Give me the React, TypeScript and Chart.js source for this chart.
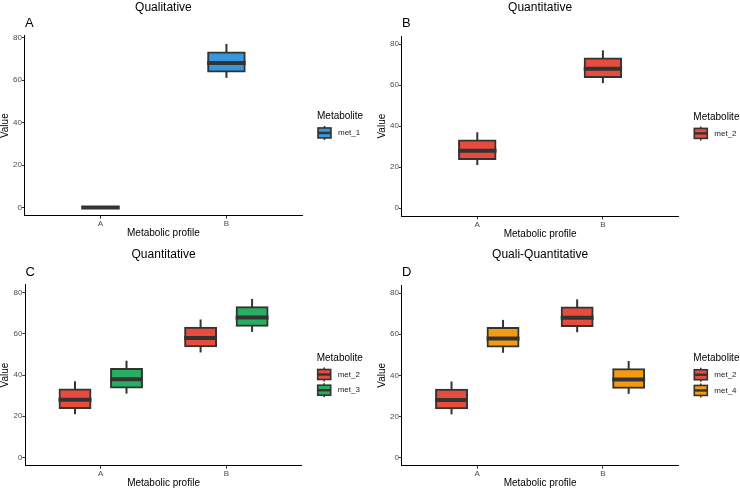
import React, { useEffect, useRef } from "react";
import { Chart, registerables } from "chart.js";

Chart.register(...registerables);

// ---------- data ----------
const CATEGORIES = ["A", "B"];
const Y_TICKS = [0, 20, 40, 60, 80];

// five-number summaries per category: [min, q1, median, q3, max]
const A_MET_1 = [
  [0, 0, 0, 0, 0],
  [61, 64, 68, 73, 77],
];
const B_MET_2 = [
  [21, 24, 28, 33, 37],
  [61, 64, 68, 73, 77],
];
const C_MET_2 = [
  [21, 24, 28, 33, 37],
  [51, 54, 58, 63, 67],
];
const C_MET_3 = [
  [31, 34, 38, 43, 47],
  [61, 64, 68, 73, 77],
];
const D_MET_2 = [
  [21, 24, 28, 33, 37],
  [61, 64, 68, 73, 77],
];
const D_MET_4 = [
  [51, 54, 58, 63, 67],
  [31, 34, 38, 43, 47],
];

const FONT = "'Liberation Sans', Arial, Helvetica, sans-serif";
const OUTLINE = "#333333";
const COLORS: Record<string, string> = {
  met_1: "#3498DB",
  met_2: "#E74C3C",
  met_3: "#27AE60",
  met_4: "#F39C12",
};

type Series = { name: string; stats: number[][] };
type Panel = {
  title: string;
  tag: string;
  yMin: number;
  yMax: number;
  series: Series[];
  box: { left: number; top: number; width: number; height: number };
  pad: { left: number; right: number; top: number; bottom: number };
  titleGap: number;
  tagGap: number;
};

const PANELS: Panel[] = [
  {
    title: "Qualitative",
    tag: "A",
    yMin: -3.85,
    yMax: 80.85,
    series: [{ name: "met_1", stats: A_MET_1 }],
    box: { left: 0, top: 0, width: 370, height: 245 },
    pad: { left: 0, right: 68, top: 2, bottom: 6.3 },
    titleGap: 3,
    tagGap: 5.7,
  },
  {
    title: "Quantitative",
    tag: "B",
    yMin: -4,
    yMax: 84,
    series: [{ name: "met_2", stats: B_MET_2 }],
    box: { left: 370, top: 0, width: 370, height: 245 },
    pad: { left: 7, right: 61.7, top: 2, bottom: 5.7 },
    titleGap: 3,
    tagGap: 6,
  },
  {
    title: "Quantitative",
    tag: "C",
    yMin: -4,
    yMax: 84,
    series: [
      { name: "met_2", stats: C_MET_2 },
      { name: "met_3", stats: C_MET_3 },
    ],
    box: { left: 0, top: 245, width: 370, height: 246 },
    pad: { left: 0.5, right: 68.3, top: 3.5, bottom: 2.3 },
    titleGap: 5,
    tagGap: 6,
  },
  {
    title: "Quali-Quantitative",
    tag: "D",
    yMin: -4,
    yMax: 84,
    series: [
      { name: "met_2", stats: D_MET_2 },
      { name: "met_4", stats: D_MET_4 },
    ],
    box: { left: 370, top: 245, width: 370, height: 246 },
    pad: { left: 7, right: 61.7, top: 3.5, bottom: 2.3 },
    titleGap: 5,
    tagGap: 6.5,
  },
];

// whiskers (under boxes) and medians (over boxes), positioned from the bar elements + y scale
const boxPlotPlugin = {
  id: "boxPlotParts",
  beforeDatasetsDraw(chart: any) {
    const ctx = chart.ctx;
    const y = chart.scales.y;
    chart.data.datasets.forEach((ds: any, d: number) => {
      const meta = chart.getDatasetMeta(d);
      meta.data.forEach((el: any, i: number) => {
        const s = ds.boxStats[i];
        if (s[4] === s[0]) return;
        ctx.save();
        ctx.strokeStyle = OUTLINE;
        ctx.lineWidth = 2;
        ctx.beginPath();
        ctx.moveTo(el.x, y.getPixelForValue(s[0]));
        ctx.lineTo(el.x, y.getPixelForValue(s[4]));
        ctx.stroke();
        ctx.restore();
      });
    });
  },
  afterDatasetsDraw(chart: any) {
    const ctx = chart.ctx;
    const y = chart.scales.y;
    chart.data.datasets.forEach((ds: any, d: number) => {
      const meta = chart.getDatasetMeta(d);
      meta.data.forEach((el: any, i: number) => {
        const s = ds.boxStats[i];
        const py = y.getPixelForValue(s[2]);
        ctx.save();
        ctx.strokeStyle = OUTLINE;
        ctx.lineWidth = 4;
        ctx.beginPath();
        ctx.moveTo(el.x - el.width / 2 - 1, py);
        ctx.lineTo(el.x + el.width / 2 + 1, py);
        ctx.stroke();
        ctx.restore();
      });
    });
  },
  afterDraw(chart: any) {
    const ctx = chart.ctx;
    const area = chart.chartArea;
    const ds = chart.data.datasets;
    const n = ds.length;
    const x0 = area.right + 15;
    const cy = (area.top + area.bottom) / 2;
    const span = 16.5 + (n - 1) * 15.7;
    const titleY = cy - 1 - span / 2;
    ctx.save();
    ctx.fillStyle = "#000";
    ctx.font = `10px ${FONT}`;
    ctx.textBaseline = "middle";
    ctx.textAlign = "left";
    ctx.fillText("Metabolite", x0, titleY);
    ds.forEach((d: any, i: number) => {
      const ky = titleY + 16.5 + i * 15.7;
      const kx = x0 + 1;
      const kw = 13;
      const kh = 10;
      // whisker stubs
      ctx.strokeStyle = OUTLINE;
      ctx.lineWidth = 1.5;
      ctx.beginPath();
      ctx.moveTo(kx + kw / 2, ky - kh / 2 - 2);
      ctx.lineTo(kx + kw / 2, ky + kh / 2 + 2);
      ctx.stroke();
      // box
      ctx.fillStyle = d.backgroundColor;
      ctx.fillRect(kx, ky - kh / 2, kw, kh);
      ctx.lineWidth = 1.6;
      ctx.strokeRect(kx, ky - kh / 2, kw, kh);
      // median
      ctx.lineWidth = 2.4;
      ctx.beginPath();
      ctx.moveTo(kx, ky);
      ctx.lineTo(kx + kw, ky);
      ctx.stroke();
      // label
      ctx.fillStyle = "#1a1a1a";
      ctx.font = `8px ${FONT}`;
      ctx.fillText(d.label, x0 + 21, ky);
    });
    ctx.restore();
  },
};

function PanelChart({ panel }: { panel: Panel }) {
  const ref = useRef<HTMLCanvasElement | null>(null);
  useEffect(() => {
    if (!ref.current) return;
    const grouped = panel.series.length > 1;
    const catPct = 0.82;
    const barPct = grouped ? 0.6 : 0.29 / 0.82;
    const datasets = panel.series.map((s) => ({
      label: s.name,
      data: s.stats.map((st, i) => ({ x: i + 1, y: [st[1], st[3]] })),
      boxStats: s.stats,
      backgroundColor: COLORS[s.name],
      borderColor: OUTLINE,
      borderWidth: 2,
      borderSkipped: false,
      inflateAmount: 1,
      categoryPercentage: catPct,
      barPercentage: barPct,
    }));
    const chart = new Chart(ref.current, {
      type: "bar",
      data: { datasets } as any,
      plugins: [boxPlotPlugin],
      options: {
        animation: false,
        responsive: false,
        maintainAspectRatio: false,
        events: [],
        layout: { padding: panel.pad },
        font: { family: FONT },
        plugins: {
          legend: { display: false },
          tooltip: { enabled: false },
          title: {
            display: true,
            text: panel.title,
            fullSize: false,
            align: "center",
            color: "#000",
            font: { family: FONT, size: 12, weight: "normal", lineHeight: 1 },
            padding: { top: 0, bottom: panel.titleGap },
          },
          subtitle: {
            display: true,
            text: panel.tag,
            fullSize: false,
            align: "start",
            color: "#000",
            font: { family: FONT, size: 13, weight: "normal", lineHeight: 1 },
            padding: { top: 0, bottom: panel.tagGap },
          },
        },
        scales: {
          x: {
            type: "linear",
            min: 0.4,
            max: 2.6,
            offset: false,
            afterBuildTicks: (scale: any) => {
              scale.ticks = CATEGORIES.map((_, i) => ({ value: i + 1 }));
            },
            ticks: {
              callback: (_v: any, i: number) => CATEGORIES[i],
              color: "#4D4D4D",
              font: { family: FONT, size: 8, lineHeight: 1 },
              padding: 1,
              maxRotation: 0,
              autoSkip: false,
            },
            grid: {
              display: true,
              offset: false,
              drawOnChartArea: false,
              drawTicks: true,
              tickLength: 3,
              color: OUTLINE,
            },
            border: { display: true, color: "#000", width: 1 },
            title: {
              display: true,
              text: "Metabolic profile",
              color: "#000",
              font: { family: FONT, size: 10, lineHeight: 1 },
              padding: { top: 0, bottom: 0 },
            },
          },
          y: {
            type: "linear",
            min: panel.yMin,
            max: panel.yMax,
            afterBuildTicks: (scale: any) => {
              scale.ticks = Y_TICKS.map((v) => ({ value: v }));
            },
            ticks: {
              color: "#4D4D4D",
              font: { family: FONT, size: 8, lineHeight: 1 },
              padding: 0,
            },
            grid: {
              display: true,
              drawOnChartArea: false,
              drawTicks: true,
              tickLength: 3,
              color: OUTLINE,
            },
            border: { display: true, color: "#000", width: 1 },
            title: {
              display: true,
              text: "Value",
              color: "#000",
              font: { family: FONT, size: 10, lineHeight: 1 },
              padding: { top: 0, bottom: 3 },
            },
          },
        },
      } as any,
    });
    return () => chart.destroy();
  }, [panel]);
  return (
    <canvas
      ref={ref}
      width={panel.box.width}
      height={panel.box.height}
      style={{
        position: "absolute",
        left: panel.box.left,
        top: panel.box.top,
        width: panel.box.width,
        height: panel.box.height,
      }}
    />
  );
}

export default function App() {
  return (
    <div
      style={{
        position: "absolute",
        left: 0,
        top: 0,
        width: 740,
        height: 491,
        background: "#ffffff",
        overflow: "hidden",
      }}
    >
      {PANELS.map((p) => (
        <PanelChart key={p.tag} panel={p} />
      ))}
    </div>
  );
}
